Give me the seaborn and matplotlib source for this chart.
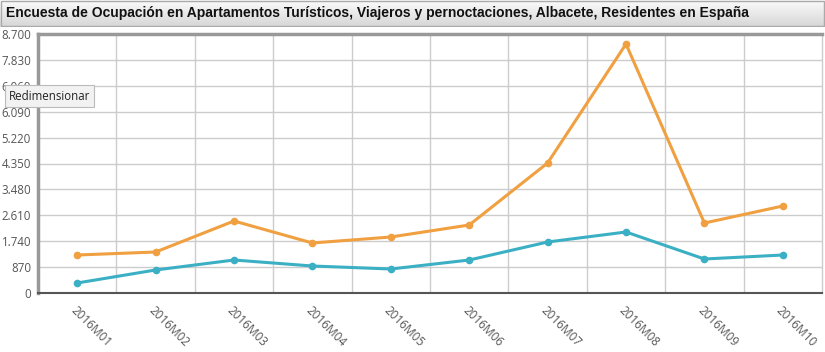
import numpy as np
import pandas as pd
import seaborn as sns
import matplotlib.pyplot as plt
from matplotlib.patches import Rectangle
from matplotlib.colors import LinearSegmentedColormap
from matplotlib.ticker import FuncFormatter

# datos
meses = ["2016M01", "2016M02", "2016M03", "2016M04", "2016M05",
         "2016M06", "2016M07", "2016M08", "2016M09", "2016M10"]
pernoctaciones = [1276, 1377, 2418, 1680, 1881, 2284, 4367, 8364, 2351, 2922]
viajeros = [336, 773, 1108, 907, 806, 1108, 1713, 2049, 1142, 1276]
y_ticks = [0, 870, 1740, 2610, 3480, 4350, 5220, 6090, 6960, 7830, 8700]

titulo = "Encuesta de Ocupación en Apartamentos Turísticos, Viajeros y pernoctaciones, Albacete, Residentes en España"

df = pd.DataFrame({
    "mes": meses * 2,
    "pos": list(range(len(meses))) * 2,
    "valor": pernoctaciones + viajeros,
    "serie": ["Pernoctaciones"] * len(meses) + ["Viajeros"] * len(meses),
})

sns.set_style("white")
plt.rcParams["font.family"] = ["Open Sans", "DejaVu Sans"]

fig = plt.figure(figsize=(8.25, 3.52), dpi=100)
ax = fig.add_axes([38 / 825, 1 - 293 / 352, (822 - 38) / 825, (293 - 34) / 352])

colores = {"Pernoctaciones": "#F0A040", "Viajeros": "#3BB0C4"}
sns.lineplot(data=df, x="pos", y="valor", hue="serie", palette=colores,
             marker="o", markersize=5.5, markeredgewidth=0, linewidth=2.2,
             legend=False, ax=ax, zorder=3)

ax.set_xlim(-0.5, len(meses) - 0.5)
ax.set_ylim(0, 8700)
ax.set_yticks(y_ticks)
ax.yaxis.set_major_formatter(FuncFormatter(lambda v, p: f"{int(v):,}".replace(",", ".")))
ax.set_xticks(range(len(meses)))
ax.set_xticklabels(meses, rotation=-45, ha="left", va="top", rotation_mode="anchor")
ax.set_xticks(np.arange(0.5, len(meses) - 0.5, 1), minor=True)
ax.set_xlabel("")
ax.set_ylabel("")

ax.grid(True, axis="y", color="#CCCCCC", linewidth=1)
ax.grid(True, axis="x", which="minor", color="#CCCCCC", linewidth=1)
ax.grid(False, axis="x", which="major")
ax.tick_params(axis="x", which="major", length=0, pad=8, labelsize=8.5, labelcolor="#555555")
ax.tick_params(axis="x", which="minor", length=4, color="#CCCCCC")
ax.tick_params(axis="y", length=4, color="#999999", labelsize=8.3, labelcolor="#555555", pad=1)

for lado in ["top", "left"]:
    ax.spines[lado].set_color("#999999")
    ax.spines[lado].set_linewidth(2.5)
ax.spines["bottom"].set_color("#555555")
ax.spines["bottom"].set_linewidth(1.5)
ax.spines["right"].set_color("#CCCCCC")
ax.spines["right"].set_linewidth(1)

# barra de titulo
barra = fig.add_axes([0, 1 - 27 / 352, 1, 27 / 352])
barra.set_xlim(0, 1)
barra.set_ylim(0, 1)
barra.axis("off")
grad = np.linspace(1, 0, 50).reshape(-1, 1)
barra.imshow(grad, extent=[0, 1, 0, 1], aspect="auto",
             cmap=LinearSegmentedColormap.from_list("g", ["#D6D6D6", "#FBFBFB"]))
barra.add_patch(Rectangle((0.001, 0.03), 0.998, 0.94, fill=False, edgecolor="#AAAAAA", linewidth=1))
barra.text(0.007, 0.5, titulo, fontsize=10, fontweight="bold", va="center", ha="left",
           color="#111111", family=["Liberation Sans", "DejaVu Sans"])

# boton
fig.text(9 / 825, 1 - 96 / 352, "Redimensionar", fontsize=8.3, va="center", ha="left", color="#222222",
         bbox=dict(boxstyle="square,pad=0.35", facecolor="#F2F2F2", edgecolor="#BBBBBB", linewidth=0.8))

fig.savefig("out.png", dpi=100)
plt.close()
